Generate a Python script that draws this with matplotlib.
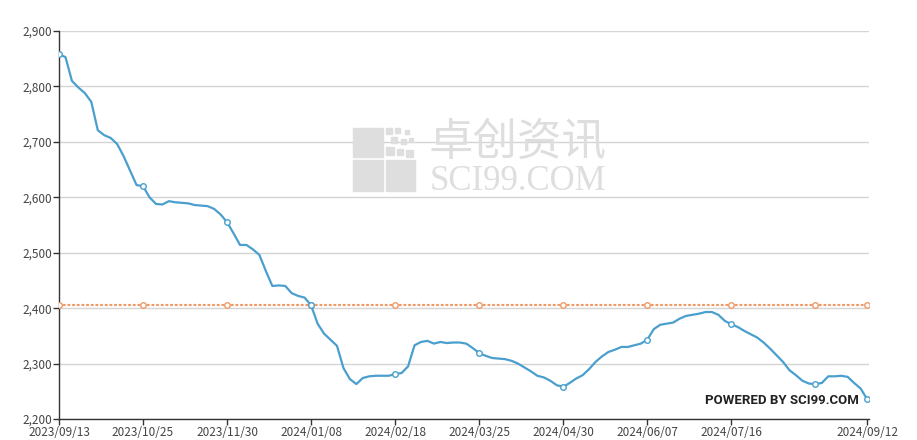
import numpy as np
import matplotlib
matplotlib.use("Agg")
import matplotlib.pyplot as plt
from matplotlib.patches import Rectangle
from matplotlib.ticker import FuncFormatter

plt.rcParams['font.family'] = ['Noto Sans CJK SC', 'DejaVu Sans']

# price series (one point per 2 trading days, 2023/09/13 .. 2024/09/12)
price = [
    2858, 2853, 2810, 2798, 2788, 2772, 2721, 2712, 2707, 2696,
    2674, 2648, 2622, 2620, 2600, 2588, 2587, 2593, 2591, 2590,
    2589, 2586, 2585, 2584, 2579, 2569, 2555, 2535, 2514, 2514,
    2506, 2496, 2467, 2440, 2441, 2440, 2427, 2422, 2419, 2405,
    2372, 2354, 2343, 2332, 2292, 2272, 2263, 2274, 2277, 2278,
    2278, 2278, 2281, 2283, 2295, 2333, 2339, 2341, 2336, 2339,
    2337, 2338, 2338, 2336, 2328, 2319, 2314, 2310, 2309, 2308,
    2305, 2300, 2293, 2286, 2278, 2275, 2269, 2261, 2258, 2265,
    2273, 2279, 2290, 2303, 2313, 2321, 2325, 2330, 2330, 2333,
    2336, 2343, 2362, 2370, 2372, 2374, 2381, 2386, 2388, 2390,
    2393, 2393, 2388, 2377, 2371, 2366, 2359, 2353, 2347, 2338,
    2327, 2315, 2303, 2288, 2279, 2269, 2264, 2263, 2265, 2277,
    2277, 2278, 2276, 2265, 2255, 2236,
]
avg_price = 2405

tick_labels = ['2023/09/13', '2023/10/25', '2023/11/30', '2024/01/08',
               '2024/02/18', '2024/03/25', '2024/04/30', '2024/06/07',
               '2024/07/16', '', '2024/09/12']
y_ticks = [2200, 2300, 2400, 2500, 2600, 2700, 2800, 2900]

blue = '#4a9fce'
orange = '#ee9a66'
step = 13

x = np.arange(len(price))
avg = np.full(len(price), avg_price)
mark_idx = list(range(0, len(price), step)) + [len(price) - 1]

fig = plt.figure(figsize=(9.17, 4.40), dpi=100)
ax = fig.add_axes([59 / 917, 21 / 440, 810 / 917, 388 / 440])

ax.plot(x, avg, color=orange, lw=1.6, ls=(0, (0.5, 1.6)), dash_capstyle='round',
        marker='o', markevery=mark_idx, ms=4, mfc='white', mec=orange, mew=1.0, zorder=3)
ax.plot(x, price, color=blue, lw=1.6, marker='o', markevery=mark_idx,
        ms=4, mfc='white', mec=blue, mew=1.0, zorder=4)

ax.set_xlim(0, 125.3)
ax.set_ylim(2200, 2900)
ax.set_yticks(y_ticks)
ax.yaxis.set_major_formatter(FuncFormatter(lambda v, p: f'{int(v):,}'))
tick_pos = [i for i, t in zip(mark_idx, tick_labels) if t]
ax.set_xticks(tick_pos)
ax.set_xticklabels([t for t in tick_labels if t])

ax.grid(axis='y', color='#d4d4d4', lw=1.0)
ax.set_axisbelow(True)
for s in ['top', 'right']:
    ax.spines[s].set_visible(False)
for s in ['left', 'bottom']:
    ax.spines[s].set_color('#333333')
    ax.spines[s].set_linewidth(1.0)
ax.tick_params(axis='both', length=4, width=1, color='#333333',
               labelcolor='#444444', labelsize=8.5, pad=1)

# watermark
wm = '#dedede'
for (x0, y0, w, h) in [(353, 128, 30, 29), (353, 160, 30, 31), (386, 160, 29, 31)]:
    fig.patches.append(Rectangle((x0 / 917, 1 - (y0 + h) / 440), w / 917, h / 440,
                                 transform=fig.transFigure, color=wm, zorder=0))
for (x0, y0, s) in [(386, 128, 6), (395, 128, 5), (405, 130, 4), (391, 137, 6),
                    (401, 139, 5), (409, 138, 4), (386, 147, 8), (397, 149, 6), (406, 150, 7)]:
    fig.patches.append(Rectangle((x0 / 917, 1 - (y0 + s) / 440), s / 917, s / 440,
                                 transform=fig.transFigure, color=wm, zorder=0))
fig.text(518 / 917, 1 - 142 / 440, '卓创资讯', fontsize=32, color=wm,
         ha='center', va='center', family=['Noto Sans CJK SC'], zorder=0)
fig.text(518 / 917, 1 - 181 / 440, 'SCI99.COM', fontsize=25, color=wm,
         ha='center', va='center', family=['Liberation Serif'], zorder=0)

fig.text(859 / 917, 1 - 400 / 440, 'POWERED BY SCI99.COM', fontsize=9.5,
         fontweight='bold', color='#222222', ha='right', va='center',
         family=['Roboto', 'DejaVu Sans'])

fig.savefig('out.png', dpi=100)
